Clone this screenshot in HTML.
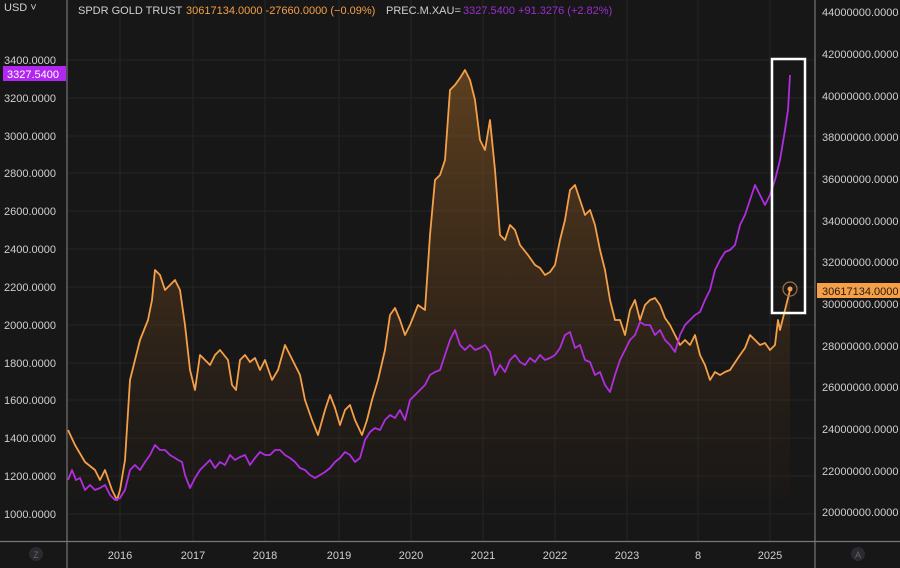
<!DOCTYPE html>
<html><head><meta charset="utf-8"><style>
html,body{margin:0;padding:0;background:#171717;}
svg{display:block;font-family:"Liberation Sans",sans-serif;}
</style></head><body>
<svg width="900" height="568" viewBox="0 0 900 568" xmlns="http://www.w3.org/2000/svg">
<defs>
<linearGradient id="g" x1="0" y1="0" x2="0" y2="1">
<stop offset="0" stop-color="#8a5a24" stop-opacity="0.6"/>
<stop offset="0.55" stop-color="#5a3a1c" stop-opacity="0.45"/>
<stop offset="1" stop-color="#2a1e14" stop-opacity="0.15"/>
</linearGradient>
</defs>
<rect width="900" height="568" fill="#171717"/>
<g stroke="#262626" stroke-width="1">
<line x1="67" y1="60" x2="815" y2="60"/><line x1="67" y1="98" x2="815" y2="98"/><line x1="67" y1="136" x2="815" y2="136"/><line x1="67" y1="173" x2="815" y2="173"/><line x1="67" y1="211" x2="815" y2="211"/><line x1="67" y1="249" x2="815" y2="249"/><line x1="67" y1="287" x2="815" y2="287"/><line x1="67" y1="325" x2="815" y2="325"/><line x1="67" y1="363" x2="815" y2="363"/><line x1="67" y1="400" x2="815" y2="400"/><line x1="67" y1="438" x2="815" y2="438"/><line x1="67" y1="476" x2="815" y2="476"/><line x1="67" y1="514" x2="815" y2="514"/>
<line x1="120" y1="0" x2="120" y2="541"/><line x1="193" y1="0" x2="193" y2="541"/><line x1="265" y1="0" x2="265" y2="541"/><line x1="339" y1="0" x2="339" y2="541"/><line x1="411" y1="0" x2="411" y2="541"/><line x1="483" y1="0" x2="483" y2="541"/><line x1="555" y1="0" x2="555" y2="541"/><line x1="627" y1="0" x2="627" y2="541"/><line x1="698" y1="0" x2="698" y2="541"/><line x1="770" y1="0" x2="770" y2="541"/>
</g>
<polygon fill="url(#g)" points="68,500 68,430 75,445 85,462 95,470 100,480 105,470 112,490 117,500 120,490 125,460 130,380 135,360 140,340 148,320 152,300 155,270 160,275 165,290 170,285 175,280 180,290 185,325 190,370 195,390 200,355 205,360 210,365 215,355 220,350 228,360 232,385 236,390 240,360 245,355 250,362 255,358 260,370 265,360 272,380 278,370 285,345 290,355 295,365 300,375 305,400 312,420 318,435 325,410 330,395 335,408 340,425 345,410 350,405 355,420 362,435 367,420 372,400 378,380 385,350 390,315 395,308 400,320 405,335 410,325 418,305 425,310 430,235 435,180 440,175 445,160 450,90 455,85 460,78 465,70 470,80 475,100 480,140 485,150 490,120 495,170 500,235 505,240 510,225 515,230 520,245 528,255 535,265 540,268 545,275 550,272 555,265 560,240 565,220 570,190 575,185 580,200 585,215 590,210 595,225 600,250 605,270 610,300 615,320 620,320 625,335 630,310 635,300 640,320 645,305 650,300 655,298 660,305 665,318 670,325 675,335 680,345 685,340 690,345 695,335 700,355 705,365 710,380 715,372 720,375 725,372 730,370 740,355 745,348 750,335 755,340 760,345 765,343 770,350 775,345 778,320 780,330 785,310 790,290 790,500"/>
<polyline fill="none" stroke="#f5a048" stroke-width="1.8" stroke-linejoin="round" points="68,430 75,445 85,462 95,470 100,480 105,470 112,490 117,500 120,490 125,460 130,380 135,360 140,340 148,320 152,300 155,270 160,275 165,290 170,285 175,280 180,290 185,325 190,370 195,390 200,355 205,360 210,365 215,355 220,350 228,360 232,385 236,390 240,360 245,355 250,362 255,358 260,370 265,360 272,380 278,370 285,345 290,355 295,365 300,375 305,400 312,420 318,435 325,410 330,395 335,408 340,425 345,410 350,405 355,420 362,435 367,420 372,400 378,380 385,350 390,315 395,308 400,320 405,335 410,325 418,305 425,310 430,235 435,180 440,175 445,160 450,90 455,85 460,78 465,70 470,80 475,100 480,140 485,150 490,120 495,170 500,235 505,240 510,225 515,230 520,245 528,255 535,265 540,268 545,275 550,272 555,265 560,240 565,220 570,190 575,185 580,200 585,215 590,210 595,225 600,250 605,270 610,300 615,320 620,320 625,335 630,310 635,300 640,320 645,305 650,300 655,298 660,305 665,318 670,325 675,335 680,345 685,340 690,345 695,335 700,355 705,365 710,380 715,372 720,375 725,372 730,370 740,355 745,348 750,335 755,340 760,345 765,343 770,350 775,345 778,320 780,330 785,310 790,290"/>
<polyline fill="none" stroke="#b02ee0" stroke-width="1.8" stroke-linejoin="round" points="68,480 72,470 76,480 80,478 85,490 90,485 95,490 100,488 105,485 110,495 115,500 120,498 125,490 130,470 135,465 140,470 145,462 150,455 155,445 160,450 165,450 170,455 175,458 178,460 182,462 185,475 190,488 195,478 200,470 205,465 210,460 215,468 220,462 225,465 230,455 235,460 240,457 245,455 250,465 255,458 260,452 265,455 270,455 275,450 280,450 285,455 290,458 295,462 300,468 305,470 310,475 315,478 320,475 325,472 330,468 335,462 340,458 345,452 350,455 355,462 360,458 365,440 370,432 375,428 380,430 385,420 390,415 395,418 400,410 405,420 410,400 415,395 420,390 425,385 430,375 435,372 440,370 445,355 450,340 455,330 460,345 465,350 470,345 475,350 480,348 485,345 490,352 495,375 500,365 505,372 510,360 515,355 520,362 525,365 530,358 535,362 540,355 545,360 550,358 555,355 560,348 565,335 570,332 575,348 580,345 585,360 590,362 595,375 600,372 605,385 610,392 615,375 620,360 625,350 630,340 635,335 640,322 645,325 650,325 655,335 660,330 665,340 670,345 675,352 680,335 685,325 690,320 695,315 700,312 705,300 710,290 715,270 720,260 725,252 730,250 735,245 740,225 745,215 750,200 755,185 760,195 765,205 770,195 775,180 780,160 785,130 788,110 790,75"/>
<circle cx="790" cy="289" r="7" fill="none" stroke="#a07040" stroke-width="1.2"/>
<circle cx="790" cy="289" r="2.5" fill="#f5a048"/>
<rect x="772" y="59" width="33" height="254" fill="none" stroke="#ffffff" stroke-width="2.5"/>
<g stroke="#777" stroke-width="1.2">
<line x1="67" y1="0" x2="67" y2="568"/>
<line x1="815" y1="0" x2="815" y2="568"/>
<line x1="0" y1="541.5" x2="900" y2="541.5"/>
</g>
<g fill="#cfcfcf" font-size="11">
<text x="4" y="11">USD ˅</text>
<text x="4" y="64">3400.0000</text><text x="4" y="102">3200.0000</text><text x="4" y="140">3000.0000</text><text x="4" y="177">2800.0000</text><text x="4" y="215">2600.0000</text><text x="4" y="253">2400.0000</text><text x="4" y="291">2200.0000</text><text x="4" y="329">2000.0000</text><text x="4" y="367">1800.0000</text><text x="4" y="404">1600.0000</text><text x="4" y="442">1400.0000</text><text x="4" y="480">1200.0000</text><text x="4" y="518">1000.0000</text>
<text x="822" y="16">44000000.0000</text><text x="822" y="58">42000000.0000</text><text x="822" y="100">40000000.0000</text><text x="822" y="141">38000000.0000</text><text x="822" y="183">36000000.0000</text><text x="822" y="225">34000000.0000</text><text x="822" y="266">32000000.0000</text><text x="822" y="308">30000000.0000</text><text x="822" y="350">28000000.0000</text><text x="822" y="391">26000000.0000</text><text x="822" y="433">24000000.0000</text><text x="822" y="475">22000000.0000</text><text x="822" y="516">20000000.0000</text>
<g text-anchor="middle"><text x="120" y="559">2016</text><text x="193" y="559">2017</text><text x="265" y="559">2018</text><text x="339" y="559">2019</text><text x="411" y="559">2020</text><text x="483" y="559">2021</text><text x="555" y="559">2022</text><text x="627" y="559">2023</text><text x="698" y="559">8</text><text x="770" y="559">2025</text></g>
</g>
<circle cx="36" cy="554" r="7" fill="#2a2a30"/><text x="36" y="558" font-size="9" fill="#666" text-anchor="middle">Z</text>
<circle cx="858" cy="554" r="7" fill="#2a2a30"/><text x="858" y="558" font-size="9" fill="#666" text-anchor="middle">A</text>
<rect x="3" y="66" width="63" height="15" fill="#b126f0"/>
<text x="7" y="78" font-size="11" fill="#fff">3327.5400</text>
<rect x="817" y="283" width="83" height="15" fill="#f5a048"/>
<text x="822" y="295" font-size="11" fill="#2a1a0a">30617134.0000</text>
<g font-size="11">
<text x="78" y="14" fill="#cfcfcf">SPDR GOLD TRUST</text>
<text x="186" y="14" fill="#f5a048">30617134.0000  -27660.0000 (−0.09%)</text>
<text x="386" y="14" fill="#cfcfcf">PREC.M.XAU=</text>
<text x="463" y="14" fill="#9a2ed0">3327.5400  +91.3276 (+2.82%)</text>
</g>
</svg>
</body></html>
